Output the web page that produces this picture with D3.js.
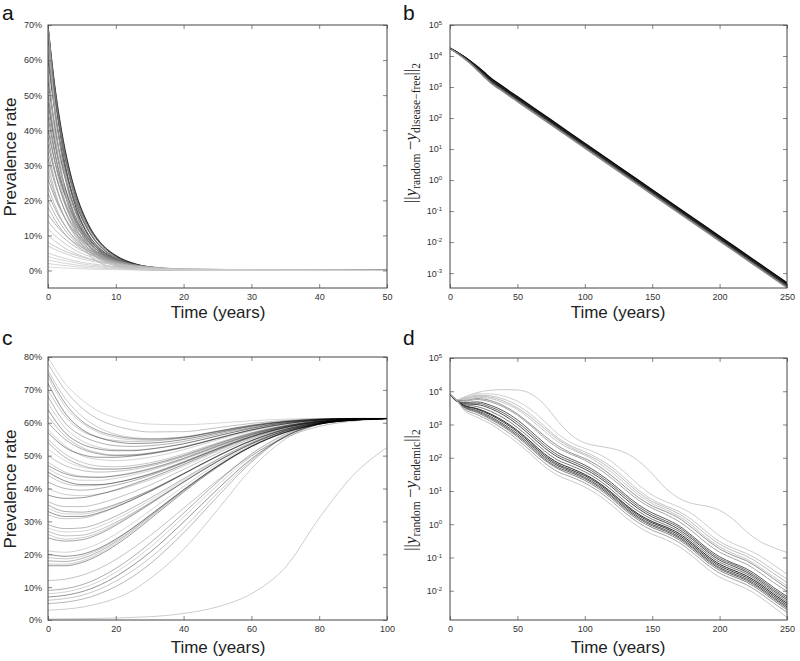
<!DOCTYPE html>
<html><head><meta charset="utf-8">
<script src="https://cdn.jsdelivr.net/npm/d3@7"></script>
<style>body{margin:0;background:#fff}svg{display:block}</style>
</head><body>
<svg id="chart" width="800" height="661"></svg>
<script>
// ---------------- DATA ----------------
// Panel a: prevalence (%) vs time (years), disease-free convergence
const aTimes = [0,1,2,3,4,6,8,10,13,16,20,50];
const aSeries = [
 [70,52.9,40.0,30.2,22.8,13.0,7.4,4.3,1.8,0.8,0.26,0],
 [70,51.9,38.4,28.5,21.1,11.6,6.4,3.5,1.4,0.56,0.18,0],
 [70,50.3,36.2,26.0,18.7,9.7,5.0,2.6,1.0,0.35,0.1,0],
 [70,47.9,32.8,22.4,15.3,7.1,3.4,1.5,0.5,0.14,0.04,0],
 [70,44.7,28.5,18.1,11.6,4.7,1.9,0.8,0.2,0.07,0,0],
 [69,52.2,39.4,29.8,22.5,12.8,7.3,4.2,1.8,0.76,0.26,0],
 [68,50.4,37.3,27.7,20.5,11.2,6.2,3.4,1.4,0.54,0.17,0],
 [66,49.9,37.7,28.5,21.5,12.3,7.0,4.0,1.7,0.73,0.24,0],
 [64,46.0,33.1,23.8,17.1,8.8,4.5,2.4,0.9,0.32,0.09,0],
 [62,45.9,34.0,25.2,18.7,10.2,5.6,3.1,1.2,0.5,0.16,0],
 [60,45.4,34.3,25.9,19.6,11.2,6.4,3.7,1.6,0.66,0.22,0],
 [58,39.7,27.1,18.6,12.7,5.9,2.8,1.3,0.4,0.12,0.03,0],
 [56,41.5,30.7,22.8,16.9,9.2,5.1,2.8,1.1,0.45,0.14,0],
 [54,40.8,30.8,23.3,17.6,10.0,5.7,3.3,1.4,0.59,0.2,0],
 [52,37.4,26.9,19.3,13.9,7.2,3.7,1.9,0.7,0.26,0.07,0],
 [50,37.1,27.5,20.4,15.1,8.3,4.6,2.5,1.0,0.4,0.13,0],
 [48,36.3,27.4,20.7,15.6,8.9,5.1,2.9,1.2,0.53,0.18,0],
 [46,34.1,25.3,18.7,13.8,7.6,4.2,2.3,0.9,0.37,0.12,0],
 [44,33.3,25.1,19.0,14.3,8.2,4.7,2.7,1.1,0.48,0.16,0],
 [42,31.1,23.1,17.1,12.6,6.9,3.8,2.1,0.8,0.34,0.1,0],
 [40,31.2,24.3,18.9,14.7,8.9,5.4,3.3,1.6,0.72,0.27,0],
 [38,28.7,21.7,16.4,12.4,7.1,4.0,2.3,1.0,0.42,0.14,0],
 [36,28.0,21.9,17.0,13.2,8.0,4.9,3.0,1.4,0.65,0.24,0],
 [34,25.7,19.4,14.7,11.1,6.3,3.6,2.1,0.9,0.37,0.13,0],
 [32,24.9,19.4,15.1,11.8,7.1,4.3,2.6,1.2,0.58,0.21,0],
 [30,22.7,17.1,13.0,9.8,5.6,3.2,1.8,0.8,0.33,0.11,0],
 [28,21.8,17.0,13.2,10.3,6.2,3.8,2.3,1.1,0.5,0.19,0],
 [26,20.9,16.7,13.4,10.8,6.9,4.5,2.9,1.5,0.78,0.31,0],
 [24,18.7,14.6,11.3,8.8,5.4,3.2,2.0,0.9,0.43,0.16,0],
 [22,17.7,14.2,11.4,9.1,5.9,3.8,2.4,1.3,0.66,0.26,0],
 [20,16.1,12.9,10.3,8.3,5.3,3.4,2.2,1.1,0.6,0.24,0],
 [18,14.5,11.6,9.3,7.5,4.8,3.1,2.0,1.0,0.54,0.22,0],
 [16,13.4,11.2,9.3,7.8,5.4,3.8,2.6,1.5,0.9,0.43,0],
 [14,11.7,9.8,8.2,6.8,4.8,3.3,2.3,1.3,0.78,0.38,0],
 [12,10.0,8.4,7.0,5.8,4.1,2.8,2.0,1.2,0.67,0.32,0],
 [10,8.4,7.0,5.8,4.9,3.4,2.4,1.7,1.0,0.56,0.27,0],
 [8,6.9,5.9,5.1,4.4,3.3,2.4,1.8,1.1,0.73,0.4,0],
 [7,6.0,5.2,4.5,3.8,2.8,2.1,1.6,1.0,0.64,0.35,0],
 [5,4.3,3.7,3.2,2.7,2.0,1.5,1.1,0.7,0.46,0.25,0],
 [4,3.4,3.0,2.6,2.2,1.6,1.2,0.9,0.57,0.36,0.2,0],
 [3,2.6,2.2,1.9,1.6,1.2,0.9,0.67,0.43,0.27,0.15,0],
 [2,1.7,1.5,1.3,1.1,0.8,0.6,0.45,0.28,0.18,0.1,0],
 [1,0.86,0.74,0.64,0.55,0.41,0.3,0.22,0.14,0.09,0.05,0]
];
const aXTicks = [0,10,20,30,40,50];
const aYTicks = [0,10,20,30,40,50,60,70];

// Panel b: log10 of ||y_random - y_disease-free||_2
const bTimes = [0,5,10,15,20,25,30,40,50,75,100,125,150,175,200,225,250];
const bLog10 = [
 [4.26,4.13,3.99,3.84,3.67,3.49,3.30,2.99,2.69,1.94,1.19,0.44,-0.31,-1.06,-1.81,-2.56,-3.31],
 [4.25,4.13,3.99,3.83,3.66,3.47,3.28,2.97,2.67,1.92,1.17,0.42,-0.33,-1.08,-1.83,-2.58,-3.33],
 [4.25,4.12,3.98,3.82,3.64,3.45,3.26,2.95,2.65,1.90,1.15,0.40,-0.35,-1.10,-1.85,-2.60,-3.35],
 [4.25,4.12,3.97,3.81,3.62,3.42,3.23,2.92,2.62,1.87,1.12,0.37,-0.38,-1.13,-1.88,-2.63,-3.38],
 [4.24,4.11,3.96,3.79,3.60,3.40,3.20,2.89,2.59,1.84,1.09,0.34,-0.41,-1.16,-1.91,-2.66,-3.41],
 [4.24,4.11,3.95,3.78,3.58,3.37,3.17,2.86,2.56,1.81,1.06,0.31,-0.44,-1.19,-1.94,-2.69,-3.44],
 [4.24,4.10,3.94,3.76,3.55,3.34,3.14,2.83,2.53,1.78,1.03,0.28,-0.47,-1.22,-1.97,-2.72,-3.47]
];
const bXTicks = [0,50,100,150,200,250];
const bYExponents = [-3,-2,-1,0,1,2,3,4,5];

// Panel c: prevalence (%) vs time, endemic convergence
const cTimes = [0,5,10,15,20,25,30,40,50,60,70,80,90,100];
const cSeries = [
 [80,72,67,63.5,61.5,60.2,59.6,59.4,59.9,60.6,61.1,61.3,61.3,61.3],
 [78,70,64.5,61,59,57.8,57.2,57.3,58.5,59.8,60.7,61.2,61.3,61.3],
 [76,67.5,62,58.5,56.5,55.5,55.2,55.7,57.5,59.3,60.5,61.1,61.3,61.3],
 [75,66,60.5,57.5,56,55.2,55,55.6,57.4,59.2,60.4,61.1,61.3,61.3],
 [74,65,60,57,55.5,54.8,54.7,55.5,57.3,59.1,60.4,61,61.3,61.3],
 [72,63,58,55.5,54.2,53.7,53.8,54.9,56.9,58.9,60.3,61,61.3,61.3],
 [70,62,57.5,55.5,54.6,54.3,54.4,55.4,57.2,59,60.3,61,61.3,61.3],
 [68,60,56,54,53,52.8,53,54.3,56.5,58.6,60.1,60.9,61.3,61.3],
 [66,58.5,54.5,52.5,51.8,51.7,52,53.6,56,58.3,60,60.9,61.2,61.3],
 [64,57,53.5,52,51.5,51.5,52,53.6,56,58.3,60,60.9,61.2,61.3],
 [62,56,52.5,50.8,50.2,50.3,50.8,52.7,55.3,57.9,59.7,60.8,61.2,61.3],
 [60,55,52,50.5,50,50.1,50.7,52.6,55.3,57.8,59.7,60.8,61.2,61.3],
 [58,53,50,48.8,48.5,48.8,49.5,51.8,54.8,57.5,59.5,60.7,61.2,61.3],
 [57,52.5,50.3,49.5,49.5,49.9,50.5,52.5,55.2,57.8,59.7,60.8,61.2,61.3],
 [55,50.5,48,46.8,46.6,47,47.8,50.5,53.9,57,59.2,60.6,61.1,61.3],
 [54,49.5,47,46,45.9,46.3,47.2,50,53.6,56.8,59.1,60.5,61.1,61.3],
 [52,48.5,46.5,45.8,45.9,46.4,47.3,50.1,53.6,56.8,59.1,60.5,61.1,61.3],
 [50,47,45.5,45,45.2,45.8,46.8,49.7,53.3,56.6,59,60.5,61.1,61.3],
 [48,45,43.7,43.4,43.8,44.6,45.8,49,52.8,56.3,58.8,60.4,61.1,61.3],
 [47,44.5,43.5,43.4,43.9,44.8,46,49.2,53,56.4,58.9,60.4,61.1,61.3],
 [46,43.5,42.5,42.5,43.1,44.1,45.4,48.8,52.7,56.2,58.8,60.4,61.1,61.3],
 [45,42.3,41.2,41.2,41.8,42.9,44.3,48,52.1,55.8,58.6,60.3,61,61.3],
 [44,41.5,40.8,41,41.8,43,44.5,48.2,52.3,56,58.7,60.3,61,61.3],
 [42,40,39.5,40,41,42.3,43.9,47.8,52,55.8,58.6,60.3,61,61.3],
 [40,38.2,37.8,38.3,39.4,40.9,42.6,46.8,51.3,55.4,58.4,60.2,61,61.3],
 [38,37,37.2,38.2,39.6,41.3,43.1,47.3,51.7,55.6,58.5,60.2,61,61.3],
 [36,34.5,34.5,35.4,37,38.9,41,45.8,50.7,55.1,58.2,60.1,61,61.3],
 [35,33,32.8,33.6,35.2,37.2,39.4,44.6,49.9,54.6,58,60,60.9,61.3],
 [34,32.3,32.2,33.2,34.9,37,39.3,44.5,49.9,54.6,58,60,60.9,61.3],
 [33,31.5,31.5,32.6,34.4,36.6,39,44.4,49.8,54.5,57.9,60,60.9,61.3],
 [32,30.8,31,32.3,34.3,36.6,39.1,44.5,49.9,54.6,58,60,60.9,61.3],
 [29,27.8,28,29.4,31.6,34.2,37,43,48.9,54,57.7,59.9,60.9,61.3],
 [28,26.8,27,28.4,30.7,33.4,36.3,42.6,48.6,53.8,57.6,59.8,60.8,61.3],
 [27,25.6,25.8,27.3,29.7,32.5,35.6,42.1,48.3,53.6,57.5,59.8,60.8,61.3],
 [26,24.6,25,26.6,29.2,32.2,35.4,42,48.2,53.6,57.5,59.8,60.8,61.3],
 [25,24,24.4,26.1,28.8,31.9,35.2,41.9,48.2,53.6,57.5,59.8,60.8,61.3],
 [21,20.6,21.4,23.3,26.1,29.5,33.2,40.6,47.5,53.2,57.3,59.7,60.8,61.3],
 [20,19.4,20,21.8,24.6,28,31.8,39.6,46.8,52.8,57.1,59.6,60.8,61.3],
 [19,18.6,19.4,21.4,24.3,27.9,31.8,39.7,46.9,52.9,57.1,59.6,60.8,61.3],
 [18,17.8,18.7,20.8,23.8,27.4,31.4,39.4,46.8,52.8,57.1,59.6,60.8,61.3],
 [17,17,18,20.2,23.3,27,31.1,39.3,46.7,52.8,57.1,59.6,60.8,61.3],
 [16.5,16.5,17.5,19.7,22.8,26.5,30.6,38.9,46.5,52.7,57,59.6,60.8,61.3],
 [12,12.4,13.6,15.6,18.4,21.8,25.6,34,42.5,50,55.5,58.9,60.5,61.2],
 [9,9.5,10.7,12.8,15.7,19.2,23.3,32.5,42,50.5,56.5,59.8,61,61.3],
 [8,8.5,9.7,11.7,14.5,18,22,31.3,41,49.8,56.1,59.7,60.9,61.3],
 [7,7.5,8.6,10.5,13.2,16.6,20.5,29.8,39.8,49,55.8,59.6,60.9,61.2],
 [6,6.5,7.5,9.3,11.8,15,18.8,28,38.6,48.5,55.9,59.6,60.9,61.2],
 [5,5.4,6.3,7.9,10.2,13.2,17,26.5,37.5,48,55.8,59.6,60.9,61.2],
 [3,3.3,3.9,5,6.6,9,12.5,21.5,33.5,46,55,59.5,60.9,61.2],
 [0.3,0.35,0.4,0.5,0.6,0.8,1.0,2.0,4.0,8.0,16,31,44,52.5]
];
const cXTicks = [0,20,40,60,80,100];
const cYTicks = [0,10,20,30,40,50,60,70,80];

// Panel d: log10 of ||y_random - y_endemic||_2
const dTimes = [0,5,10,20,30,40,50,60,70,80,90,100,110,120,130,140,150,160,170,180,190,200,210,220,230,240,250];
const dLog10 = [
 [3.92,3.72,3.80,3.96,4.03,4.05,4.04,3.92,3.60,3.10,2.68,2.45,2.35,2.28,2.15,1.90,1.52,1.08,0.78,0.62,0.55,0.42,0.15,-0.22,-0.52,-0.70,-0.85],
 [3.92,3.74,3.82,3.92,3.92,3.85,3.70,3.45,3.10,2.72,2.45,2.28,2.12,1.88,1.55,1.18,0.88,0.68,0.52,0.30,-0.02,-0.35,-0.58,-0.75,-0.95,-1.22,-1.50],
 [3.92,3.73,3.78,3.88,3.86,3.76,3.58,3.30,2.95,2.60,2.35,2.18,1.98,1.72,1.38,1.02,0.74,0.55,0.38,0.12,-0.22,-0.52,-0.72,-0.88,-1.10,-1.38,-1.65],
 [3.92,3.73,3.76,3.85,3.82,3.70,3.50,3.22,2.88,2.55,2.30,2.12,1.92,1.64,1.30,0.95,0.68,0.50,0.31,0.03,-0.31,-0.60,-0.80,-0.96,-1.20,-1.48,-1.75],
 [3.92,3.72,3.74,3.82,3.78,3.65,3.45,3.15,2.80,2.48,2.25,2.08,1.85,1.56,1.22,0.88,0.62,0.44,0.24,-0.05,-0.40,-0.68,-0.88,-1.05,-1.30,-1.58,-1.85],
 [3.92,3.72,3.72,3.78,3.72,3.56,3.32,3.00,2.66,2.36,2.14,1.98,1.76,1.46,1.12,0.80,0.55,0.38,0.18,-0.12,-0.45,-0.74,-0.94,-1.10,-1.35,-1.64,-1.92],
 [3.92,3.71,3.70,3.75,3.68,3.52,3.28,2.96,2.60,2.30,2.10,1.93,1.68,1.38,1.04,0.72,0.48,0.30,0.08,-0.22,-0.56,-0.84,-1.03,-1.20,-1.46,-1.75,-2.02],
 [3.92,3.70,3.66,3.68,3.58,3.40,3.14,2.80,2.44,2.15,1.96,1.78,1.54,1.24,0.90,0.58,0.34,0.16,-0.05,-0.36,-0.70,-0.98,-1.17,-1.34,-1.60,-1.90,-2.17],
 [3.92,3.71,3.64,3.64,3.53,3.34,3.07,2.73,2.37,2.08,1.90,1.72,1.48,1.18,0.84,0.52,0.28,0.10,-0.10,-0.41,-0.75,-1.03,-1.21,-1.39,-1.65,-1.95,-2.22],
 [3.92,3.70,3.62,3.60,3.48,3.28,3.00,2.66,2.30,2.02,1.84,1.66,1.42,1.12,0.77,0.46,0.22,0.05,-0.16,-0.46,-0.80,-1.08,-1.26,-1.44,-1.70,-2.00,-2.27],
 [3.92,3.71,3.60,3.54,3.40,3.19,2.91,2.57,2.21,1.93,1.76,1.58,1.34,1.03,0.68,0.38,0.15,-0.02,-0.22,-0.52,-0.86,-1.14,-1.32,-1.49,-1.75,-2.05,-2.33],
 [3.92,3.72,3.58,3.48,3.32,3.10,2.82,2.48,2.12,1.85,1.68,1.50,1.26,0.95,0.60,0.30,0.08,-0.08,-0.28,-0.58,-0.92,-1.20,-1.38,-1.55,-1.80,-2.10,-2.38],
 [3.92,3.72,3.57,3.46,3.29,3.06,2.78,2.43,2.07,1.80,1.63,1.46,1.22,0.91,0.56,0.26,0.04,-0.12,-0.33,-0.63,-0.97,-1.25,-1.43,-1.60,-1.85,-2.15,-2.43],
 [3.92,3.72,3.55,3.42,3.24,3.00,2.72,2.38,2.02,1.76,1.59,1.41,1.17,0.86,0.51,0.21,-0.01,-0.17,-0.38,-0.68,-1.02,-1.30,-1.48,-1.65,-1.90,-2.20,-2.48],
 [3.92,3.72,3.53,3.39,3.20,2.96,2.67,2.33,1.97,1.71,1.55,1.37,1.13,0.82,0.47,0.17,-0.05,-0.21,-0.42,-0.72,-1.06,-1.34,-1.52,-1.69,-1.94,-2.24,-2.52],
 [3.92,3.72,3.52,3.36,3.16,2.92,2.63,2.28,1.93,1.67,1.50,1.32,1.08,0.77,0.42,0.12,-0.10,-0.26,-0.47,-0.77,-1.11,-1.39,-1.57,-1.74,-1.99,-2.29,-2.57],
 [3.92,3.73,3.48,3.30,3.10,2.85,2.55,2.20,1.85,1.58,1.42,1.24,1.00,0.69,0.34,0.04,-0.18,-0.34,-0.55,-0.85,-1.19,-1.47,-1.65,-1.82,-2.07,-2.37,-2.65],
 [3.92,3.72,3.45,3.22,3.02,2.75,2.45,2.10,1.74,1.47,1.30,1.12,0.88,0.57,0.22,-0.08,-0.30,-0.46,-0.67,-0.97,-1.31,-1.59,-1.77,-1.94,-2.19,-2.49,-2.80]
];
const dXTicks = [0,50,100,150,200,250];
const dYExponents = [-2,-1,0,1,2,3,4,5];

// ---------------- STYLES ----------------
const aShades = ["#1a1a1a","#777","#444","#999","#aaa","#2a2a2a","#666","#333","#888","#555","#3a3a3a","#aaa","#777","#4a4a4a","#999","#666","#555","#888","#666","#999","#555","#888","#777","#999","#888","#aaa","#999","#888","#aaa","#999","#aaa","#aaa","#999","#aaa","#bbb","#bbb","#bbb","#c4c4c4","#c4c4c4","#ccc","#ccc","#ccc","#d0d0d0"];
const cOpacity = [0.2,0.3,0.25,0.45,0.22,0.55,0.28,0.38,0.24,0.5,0.3,0.4,0.22,0.52,0.28,0.36];
const dShades = ["#c4c4c4","#c8c8c8","#bdbdbd","#b5b5b5","#c0c0c0","#8a8a8a","#9a9a9a","#4a4a4a","#5a5a5a","#3a3a3a","#6a6a6a","#111","#2a2a2a","#444","#555","#777","#999","#c2c2c2"];
const FONT = "'Liberation Sans', Arial, Helvetica, sans-serif";
const SERIF = "'Liberation Serif', 'DejaVu Serif', 'Times New Roman', serif";

const svg = d3.select("#chart");
svg.append("rect").attr("width",800).attr("height",661).attr("fill","#fff");

function frameAxes(g, x, y, xTicks, yTicks, yFmt, isLog, box) {
  const [x0,x1,y0,y1] = box;
  g.append("g").attr("transform",`translate(0,${y1})`)
    .call(d3.axisBottom(x).tickValues(xTicks).tickSize(-4).tickPadding(6).tickFormat(d3.format("d")));
  const ay = g.append("g").attr("transform",`translate(${x0},0)`)
    .call(d3.axisLeft(y).tickValues(yTicks).tickSize(-4).tickPadding(isLog?8:6).tickFormat(isLog?()=>"":yFmt));
  g.append("g").attr("transform",`translate(0,${y0})`)
    .call(d3.axisTop(x).tickValues(xTicks).tickSize(-4).tickFormat(""));
  g.append("g").attr("transform",`translate(${x1},0)`)
    .call(d3.axisRight(y).tickValues(yTicks).tickSize(-4).tickFormat(""));
  g.selectAll(".domain").remove();
  g.selectAll(".tick line").attr("stroke","#666").attr("stroke-width",0.8);
  g.selectAll(".tick text").attr("font-family",FONT).attr("font-size",9).attr("fill","#333");
  if (isLog) {
    ay.selectAll(".tick text").each(function(d){
      const t = d3.select(this);
      t.append("tspan").text("10");
      t.append("tspan").attr("dy","-0.55em").attr("font-size",6).text(String(Math.round(Math.log10(d))));
    });
  }
  g.append("rect").attr("x",x0).attr("y",y0).attr("width",x1-x0).attr("height",y1-y0)
    .attr("fill","none").attr("stroke","#444").attr("stroke-width",1);
}

function clip(id, box) {
  const [x0,x1,y0,y1] = box;
  svg.append("clipPath").attr("id",id).append("rect")
    .attr("x",x0).attr("y",y0).attr("width",x1-x0).attr("height",y1-y0);
}

function title(g, txt, cx, cy, rot) {
  g.append("text").attr("transform",`translate(${cx},${cy})${rot?" rotate(-90)":""}`)
    .attr("text-anchor","middle").attr("font-family",FONT).attr("font-size",17).attr("fill","#222").text(txt);
}

function normLabel(g, cx, cy, sub) {
  const t = g.append("text").attr("transform",`translate(${cx},${cy}) rotate(-90)`)
    .attr("text-anchor","middle").attr("font-family",SERIF).attr("font-size",17).attr("fill","#222");
  t.append("tspan").text("||");
  t.append("tspan").attr("font-style","italic").text("y");
  t.append("tspan").attr("font-size",11.5).attr("dy",4).text("random");
  t.append("tspan").attr("dy",-4).text("\u2009\u2212");
  t.append("tspan").attr("font-style","italic").text("y");
  t.append("tspan").attr("font-size",11.5).attr("dy",4).text(sub);
  t.append("tspan").attr("dy",-4).text("||");
  t.append("tspan").attr("font-size",11.5).attr("dy",4).text("2");
}

function letter(txt, x, y) {
  svg.append("text").attr("x",x).attr("y",y).attr("font-family",FONT).attr("font-size",21).attr("fill","#111").text(txt);
}

// ---------------- PANEL A ----------------
{
  const box = [48,387,25,288];
  const g = svg.append("g");
  const x = d3.scaleLinear().domain([0,50]).range([box[0],box[1]]);
  const y = d3.scaleLinear().domain([-5,70]).range([box[3],box[2]]);
  clip("clipA", box);
  const line = d3.line().x((d,i)=>x(aTimes[i])).y(d=>y(d)).curve(d3.curveMonotoneX);
  // draw darker curves first so the lighter ones lie on top
  const order = d3.range(aSeries.length).sort((i,j)=>d3.hsl(aShades[i]).l - d3.hsl(aShades[j]).l);
  g.append("g").attr("clip-path","url(#clipA)").selectAll("path").data(order).join("path")
    .attr("d",i=>line(aSeries[i])).attr("fill","none").attr("stroke",i=>aShades[i]).attr("stroke-width",0.8);
  frameAxes(g, x, y, aXTicks, aYTicks, d=>d+"%", false, box);
  title(g, "Prevalence rate", 16, 157, true);
  title(g, "Time (years)", 218, 318, false);
  letter("a", 2, 20);
}

// ---------------- PANEL B ----------------
{
  const box = [450,787,25,288];
  const g = svg.append("g");
  const x = d3.scaleLinear().domain([0,250]).range([box[0],box[1]]);
  const y = d3.scaleLog().domain([Math.pow(10,-3.48),1e5]).range([box[3],box[2]]);
  clip("clipB", box);
  const line = d3.line().x((d,i)=>x(bTimes[i])).y(d=>y(Math.pow(10,d))).curve(d3.curveMonotoneX);
  const shades = ["#111","#000","#222","#1a1a1a","#333","#666","#888"];
  g.append("g").attr("clip-path","url(#clipB)").selectAll("path").data(bLog10).join("path")
    .attr("d",line).attr("fill","none").attr("stroke",(d,i)=>shades[i]).attr("stroke-width",1.3);
  frameAxes(g, x, y, bXTicks, bYExponents.map(e=>Math.pow(10,e)), null, true, box);
  normLabel(g, 416, 133, "disease\u2212free");
  title(g, "Time (years)", 618, 318, false);
  letter("b", 403, 20);
}

// ---------------- PANEL C ----------------
{
  const box = [48,387,357,620];
  const g = svg.append("g");
  const x = d3.scaleLinear().domain([0,100]).range([box[0],box[1]]);
  const y = d3.scaleLinear().domain([0,80]).range([box[3],box[2]]);
  clip("clipC", box);
  const line = d3.line().x((d,i)=>x(cTimes[i])).y(d=>y(d)).curve(d3.curveMonotoneX);
  g.append("g").attr("clip-path","url(#clipC)").selectAll("path").data(cSeries).join("path")
    .attr("d",line).attr("fill","none").attr("stroke","#000").attr("stroke-width",0.8)
    .attr("stroke-opacity",(d,i)=> i>=cSeries.length-2 ? 0.25 : cOpacity[i % cOpacity.length]);
  frameAxes(g, x, y, cXTicks, cYTicks, d=>d+"%", false, box);
  title(g, "Prevalence rate", 16, 489, true);
  title(g, "Time (years)", 218, 653, false);
  letter("c", 2, 345);
}

// ---------------- PANEL D ----------------
{
  const box = [450,787,358,620];
  const g = svg.append("g");
  const x = d3.scaleLinear().domain([0,250]).range([box[0],box[1]]);
  const y = d3.scaleLog().domain([Math.pow(10,-2.88),1e5]).range([box[3],box[2]]);
  clip("clipD", box);
  const line = d3.line().x((d,i)=>x(dTimes[i])).y(d=>y(Math.pow(10,d))).curve(d3.curveMonotoneX);
  g.append("g").attr("clip-path","url(#clipD)").selectAll("path").data(dLog10).join("path")
    .attr("d",line).attr("fill","none").attr("stroke",(d,i)=>dShades[i]).attr("stroke-width",0.9);
  frameAxes(g, x, y, dXTicks, dYExponents.map(e=>Math.pow(10,e)), null, true, box);
  normLabel(g, 416, 490, "endemic");
  title(g, "Time (years)", 618, 653, false);
  letter("d", 403, 345);
}
</script>
</body></html>
